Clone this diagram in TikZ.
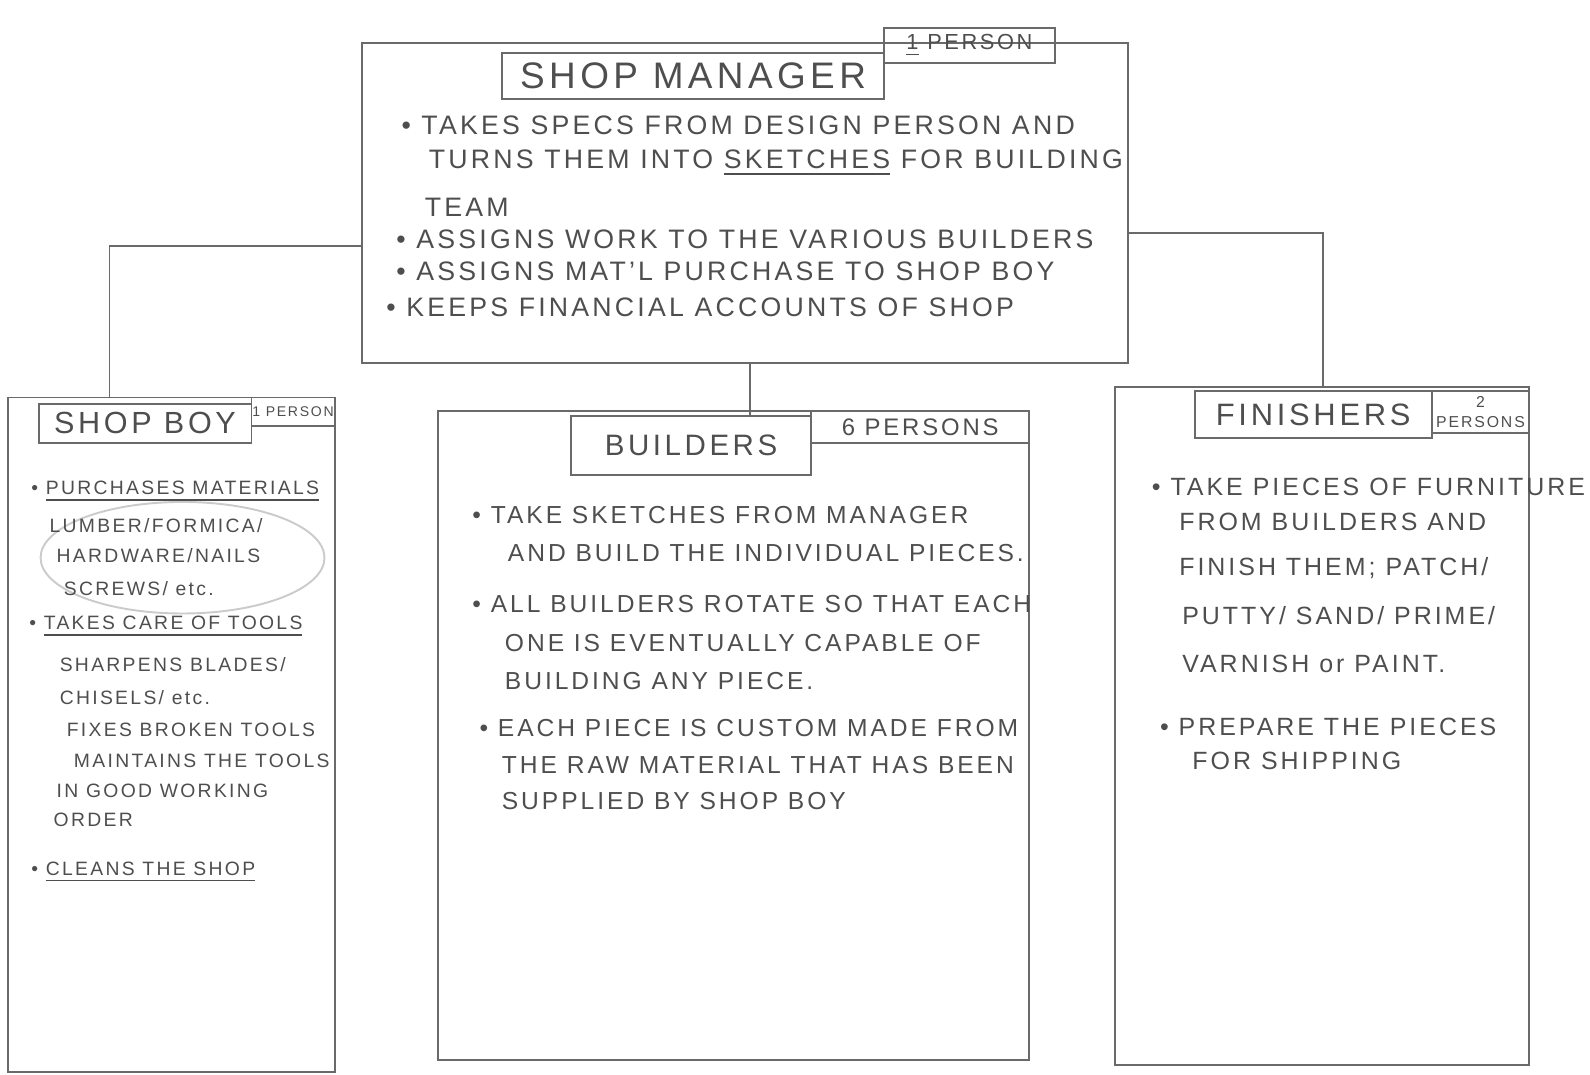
\documentclass[tikz,border=0pt]{standalone}
\usepackage{fontspec}
\setmainfont{Liberation Sans}[LetterSpace=12]
\usetikzlibrary{fit}
\definecolor{pencil}{HTML}{6A6A6A}
\definecolor{graphite}{HTML}{4E4E4E}
\begin{document}
\begin{tikzpicture}[x=0.1014mm, y=-0.1014mm, line width=0.55pt,
    box/.style={draw=pencil, inner sep=0pt},
    tag/.style={text=graphite, inner sep=0pt},
    link/.style={draw=pencil},
    line/.style={anchor=west, text=graphite, inner sep=0pt}]
  \useasboundingbox (0,0) rectangle (1568,1060);

  \node[box, fit={(357,42) (1112,358)}] (mgr) {};
  \node[box, fit={(495,52) (872,98)}] (mgrT) {};
  \node[box, fit={(872,28) (1040,62)}] (mgrN) {};
  \node[tag, font=\fontsize{10.5}{12}\selectfont] (mgrTl) at (mgrT) {SHOP MANAGER};
  \node[tag, font=\fontsize{6.2}{7}\selectfont] (mgrNl) at (mgrN) {\underline{1} PERSON};

  \node[box, fit={(8,392) (330,1057)}] (boy) {};
  \node[box, fit={(38,398) (248,437)}] (boyT) {};
  \node[box, fit={(248,392) (330,420)}] (boyN) {};
  \node[tag, font=\fontsize{8.7}{10}\selectfont] (boyTl) at (boyT) {SHOP BOY};
  \node[tag, font=\fontsize{4}{5}\selectfont] (boyNl) at (boyN) {1 PERSON};

  \node[box, fit={(432,405) (1015,1045)}] (bld) {};
  \node[box, fit={(563,410) (800,468)}] (bldT) {};
  \node[box, fit={(800,405) (1015,437)}] (bldN) {};
  \node[tag, font=\fontsize{8.4}{10}\selectfont] (bldTl) at (bldT) {BUILDERS};
  \node[tag, font=\fontsize{6.8}{8}\selectfont] (bldNl) at (bldN) {6 PERSONS};

  \node[box, fit={(1100,382) (1508,1050)}] (fin) {};
  \node[box, fit={(1178,386) (1412,432)}] (finT) {};
  \node[box, fit={(1412,386) (1508,427)}] (finN) {};
  \node[tag, font=\fontsize{8.8}{10}\selectfont] (finTl) at (finT) {FINISHERS};
  \node[tag, font=\fontsize{4.5}{5.5}\selectfont, align=center] (finNl) at (finN) {2\\PERSONS};

  \coordinate (lk) at (108,243);
  \coordinate (rk) at (1305,230);
  \coordinate (mk) at (740,0);
  \draw[link] (mgr.west |- lk) -| (boy.north -| lk);
  \draw[link] (mgr.east |- rk) -| (fin.north -| rk);
  \draw[link] (mgr.south -| mk) -- (bldT.north -| mk);

  \foreach \x/\y/\t [count=\i] in {395/124/{\textbullet\ TAKES SPECS FROM DESIGN PERSON AND},
      422/161/{TURNS THEM INTO \underline{SKETCHES} FOR BUILDING}, 418/204/{TEAM},
      390/236/{\textbullet\ ASSIGNS WORK TO THE VARIOUS BUILDERS},
      390/268/{\textbullet\ ASSIGNS MAT'L PURCHASE TO SHOP BOY},
      380/303/{\textbullet\ KEEPS FINANCIAL ACCOUNTS OF SHOP}}
    \node[line, font=\fontsize{7.6}{9}\selectfont] (mgr\i) at (\x,\y) {\t};

  \draw[pencil!35] (180,550) ellipse [x radius=140, y radius=55];
  \foreach \x/\y/\t [count=\i] in {30/485/{\textbullet\ \underline{PURCHASES MATERIALS}},
      48/518/{LUMBER/FORMICA/}, 55/548/{HARDWARE/NAILS}, 62/580/{SCREWS/ etc.},
      28/618/{\textbullet\ \underline{TAKES CARE OF TOOLS}}, 58/655/{SHARPENS BLADES/},
      58/688/{CHISELS/ etc.}, 65/720/{FIXES BROKEN TOOLS}, 72/750/{MAINTAINS THE TOOLS},
      55/780/{IN GOOD WORKING}, 52/808/{ORDER}, 30/860/{\textbullet\ \underline{CLEANS THE SHOP}}}
    \node[line, font=\fontsize{5.5}{7}\selectfont] (boy\i) at (\x,\y) {\t};

  \foreach \x/\y/\t [count=\i] in {465/508/{\textbullet\ TAKE SKETCHES FROM MANAGER},
      500/545/{AND BUILD THE INDIVIDUAL PIECES.}, 465/596/{\textbullet\ ALL BUILDERS ROTATE SO THAT EACH},
      497/634/{ONE IS EVENTUALLY CAPABLE OF}, 497/672/{BUILDING ANY PIECE.},
      472/718/{\textbullet\ EACH PIECE IS CUSTOM MADE FROM}, 494/754/{THE RAW MATERIAL THAT HAS BEEN},
      494/790/{SUPPLIED BY SHOP BOY}}
    \node[line, font=\fontsize{7}{8}\selectfont] (bld\i) at (\x,\y) {\t};

  \foreach \x/\y/\t [count=\i] in {1135/480/{\textbullet\ TAKE PIECES OF FURNITURE},
      1162/515/{FROM BUILDERS AND}, 1162/560/{FINISH THEM; PATCH/}, 1165/607/{PUTTY/ SAND/ PRIME/},
      1165/655/{VARNISH or PAINT.}, 1143/717/{\textbullet\ PREPARE THE PIECES}, 1175/750/{FOR SHIPPING}}
    \node[line, font=\fontsize{7.1}{8}\selectfont] (fin\i) at (\x,\y) {\t};
\end{tikzpicture}
\end{document}
